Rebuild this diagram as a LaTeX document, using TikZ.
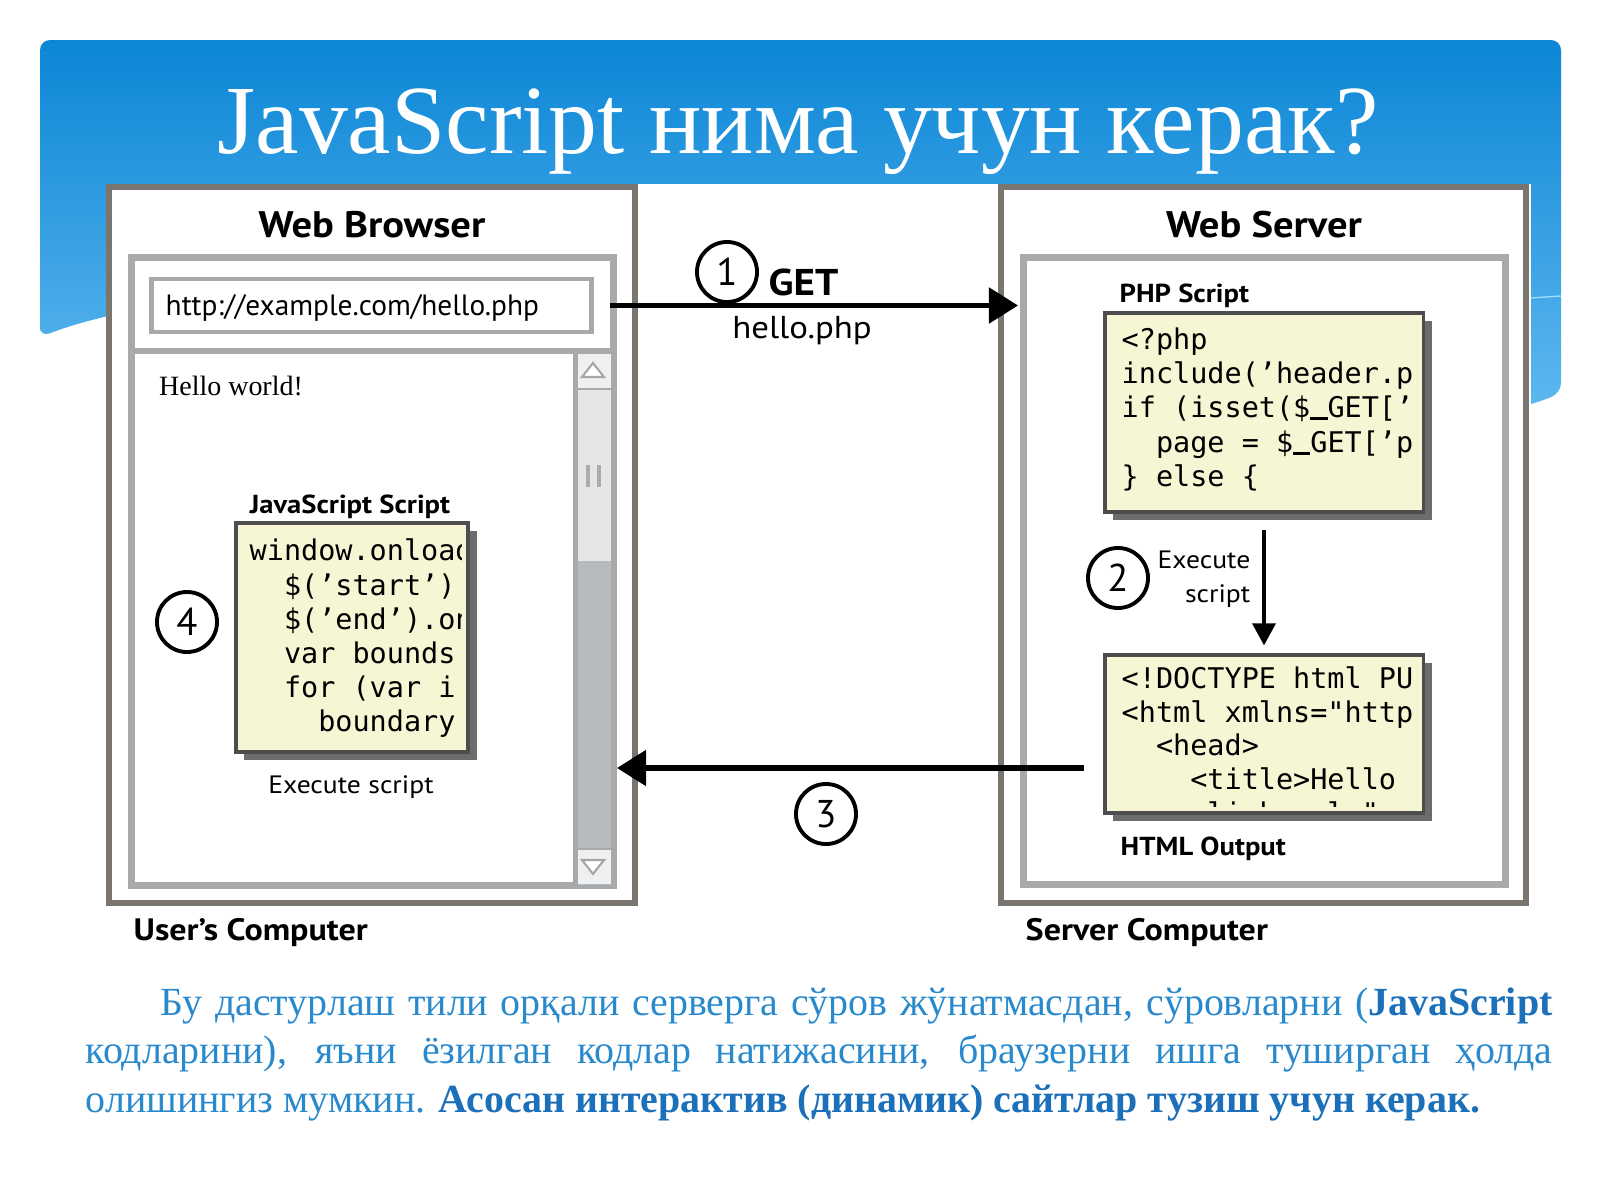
\documentclass[tikz,border=0pt]{standalone}
\usepackage{fontspec}
\setmainfont{Liberation Serif}
\newfontfamily\dsans[FakeStretch=1.1]{PT Sans}
\newfontfamily\dsansn{PT Sans}
\newfontfamily\dmono{DejaVu Sans Mono}
\usetikzlibrary{arrows.meta,shadows}
\newcommand\uscore{\rule[-0.09em]{0.602em}{0.08em}}
\definecolor{bantop}{HTML}{0C86D6}
\definecolor{banmid}{HTML}{2C9FE6}
\definecolor{banbot}{HTML}{72C4F5}
\definecolor{outergray}{HTML}{7A756E}
\definecolor{framegray}{HTML}{A8A9AB}
\definecolor{codefill}{HTML}{F7F6D4}
\definecolor{codeedge}{HTML}{4D4D4D}
\definecolor{shadowgray}{HTML}{6C6C6C}
\definecolor{trackgray}{HTML}{B6B9BD}
\definecolor{thumbgray}{HTML}{E4E6E8}
\definecolor{btngray}{HTML}{EEF0F1}
\definecolor{parablue}{HTML}{2989CD}
\definecolor{boldblue}{HTML}{1B70B9}
\begin{document}
\begin{tikzpicture}[x=0.01cm,y=-0.01cm,
  outerbox/.style={draw=outergray, line width=1.7pt, fill=white},
  framebox/.style={draw=framegray, line width=2pt, fill=white},
  codebox/.style={draw=codeedge, line width=0.9pt, fill=codefill,
    general shadow={fill=shadowgray, shadow xshift=0.085cm, shadow yshift=-0.08cm}},
  hdr/.style={inner sep=0pt, anchor=base, font=\dsans\bfseries\fontsize{10.5}{12}\selectfont},
  capt/.style={inner sep=0pt, anchor=base west, font=\dsans\bfseries\fontsize{7.4}{9}\selectfont},
  foot/.style={inner sep=0pt, anchor=base west, font=\dsans\bfseries\fontsize{8.8}{10}\selectfont},
  plain/.style={inner sep=0pt, font=\dsans\fontsize{7.15}{9}\selectfont},
  numc/.style={circle, draw, line width=1.1pt, minimum size=0.6cm, inner sep=0pt, font=\dsansn\fontsize{11}{11}\selectfont},
  code/.style={inner sep=0pt, anchor=base west, font=\dmono\fontsize{8.1}{9.7}\selectfont},
  para/.style={inner sep=0pt, anchor=base west, text=parablue, font=\fontsize{11.35}{13}\selectfont},
  bigarrow/.style={line width=1.45pt, -{Triangle[length=0.29cm, width=0.35cm]}},
  smallarrow/.style={line width=1pt, -{Triangle[length=0.22cm, width=0.23cm]}}]
\useasboundingbox (0,0) rectangle (1600,1200);
\fill[white] (0,0) rectangle (1600,1200);
% banner
\shade[top color=bantop, middle color=banmid, bottom color=banbot, rounded corners=0.1cm]
  (40,337) -- (40,40) -- (1561,40) -- (1561,393) .. controls (1300,500) and (400,200) .. (40,337) -- cycle;
\draw[white!60!cyan, line width=0.4pt] (1531,298) -- (1561,296);
\fill[white] (106,184) rectangle (1531,950);
\node[inner sep=0pt, anchor=base, text=white, font=\fontsize{27.8}{30}\selectfont] (title) at (798,153) {JavaScript нима учун керак?};

% outer boxes
\node[outerbox, minimum width=5.255cm, minimum height=7.16cm] (userpc) at (372.25,545) {};
\node[outerbox, minimum width=5.24cm, minimum height=7.16cm] (serverpc) at (1263.5,545) {};
\node[hdr] (wb) at (372,237) {Web Browser};
\node[hdr] (ws) at (1264,237) {Web Server};

% browser frame
\node[framebox, minimum width=4.81cm, minimum height=6.27cm] (browser) at (372.5,571.5) {};
\fill[trackgray] (575,351) rectangle (611,885);
\fill[thumbgray] (576,389) rectangle (611,561);
\fill[btngray] (576,352) rectangle (611,389);
\fill[btngray] (576,849) rectangle (611,884);
\draw[framegray, line width=1.2pt] (575.5,351) -- (575.5,885);
\draw[framegray, line width=0.8pt] (576,389) -- (611,389) (576,849) -- (611,849);
\draw[gray!70, fill=white, line width=0.6pt] (582,377) -- (604,377) -- (593,363) -- cycle;
\draw[gray!70, fill=white, line width=0.6pt] (582,860) -- (604,860) -- (593,874) -- cycle;
\draw[gray!65, line width=1pt] (588,465) -- (588,487) (599,465) -- (599,487);
\draw[framegray, line width=1.6pt] (132,351) -- (613,351);
\node[draw=framegray, line width=1.4pt, fill=white, minimum width=4.39cm, minimum height=0.53cm] (url) at (371.5,305.5) {};
\node[inner sep=0pt, anchor=base west, font=\dsansn\fontsize{8.35}{10}\selectfont] (urltxt) at (165,315) {http://example.com/hello.php};
\node[inner sep=0pt, anchor=base west, font=\fontsize{7.95}{9}\selectfont] (hello) at (158.5,395) {Hello world!};

% JS script
\node[hdr, font=\dsans\bfseries\fontsize{7.4}{9}\selectfont] (jslbl) at (350,513) {JavaScript Script};
\node[codebox, minimum width=2.32cm, minimum height=2.29cm] (jsbox) at (352,637.5) {};
\begin{scope}
\clip (237,524) rectangle (461,751);
\node[code] (js0) at (249,560) {window.onload};
\node[code] (js1) at (249,595) {\phantom{xx}\$(’start’)};
\node[code] (js2) at (249,629) {\phantom{xx}\$(’end’).on};
\node[code] (js3) at (249,663) {\phantom{xx}var bounds};
\node[code] (js4) at (249,697) {\phantom{xx}for (var i};
\node[code] (js5) at (249,731) {\phantom{xxxx}boundary};
\end{scope}
\node[plain, anchor=base] (exec4) at (351,793) {Execute script};
\node[numc] (c4) at (187,622) {4};
\node[foot] (ucomp) at (133,940) {User’s Computer};

% server frame
\node[framebox, minimum width=4.81cm, minimum height=6.26cm] (server) at (1264.5,571) {};
\node[capt] (phplbl) at (1119,302) {PHP Script};
\node[codebox, minimum width=3.18cm, minimum height=1.99cm] (phpbox) at (1264,412.5) {};
\begin{scope}
\clip (1106,314) rectangle (1422,511);
\node[code] (php0) at (1121,349) {<?php};
\node[code] (php1) at (1121,383) {include(’header.p};
\node[code] (php2) at (1121,417) {if (isset(\$\uscore GET[’};
\node[code] (php3) at (1121,452) {\phantom{xx}page = \$\uscore GET[’p};
\node[code] (php4) at (1121,486) {\} else \{};
\end{scope}
\node[codebox, minimum width=3.18cm, minimum height=1.58cm] (htmlbox) at (1264,734) {};
\begin{scope}
\clip (1106,656) rectangle (1422,806);
\node[code] (h0) at (1121,688) {<!DOCTYPE html PU};
\node[code] (h1) at (1121,722) {<html xmlns="http};
\node[code] (h2) at (1121,755) {\phantom{xx}<head>};
\node[code] (h3) at (1121,789) {\phantom{xxxx}<title>Hello};
\node[code] (h4) at (1121,823) {\phantom{xxxx}<link rel="};
\end{scope}
\node[capt] (htmllbl) at (1120,855) {HTML Output};
\node[foot] (scomp) at (1025,940) {Server Computer};
\draw[smallarrow, shorten <=0.16cm, shorten >=0.08cm] (phpbox.south) -- (htmlbox.north);
\node[numc] (c2) at (1118,578) {2};
\node[plain, anchor=base east] (ex2a) at (1251,568) {Execute};
\node[plain, anchor=base east] (ex2b) at (1251,602) {script};

% request / response arrows
\coordinate (a1s) at (610,305.5);
\coordinate (a1e) at (1018,305.5);
\draw[bigarrow] (a1s) -- (a1e);
\node[numc] (c1) at (727,272) {1};
\node[inner sep=0pt, anchor=base west, font=\dsans\bfseries\fontsize{10.6}{12}\selectfont] (get) at (768,295) {GET};
\node[inner sep=0pt, anchor=base, font=\dsans\fontsize{9}{11}\selectfont] (hphp) at (802,338) {hello.php};
\coordinate (a3s) at (1084,768);
\coordinate (a3e) at (617,768);
\draw[bigarrow] (a3s) -- (a3e);
\node[numc] (c3) at (826,814) {3};

% paragraph
\node[para] (p1) at (160,1015) {\makebox[13.91cm][s]{Бу дастурлаш тили орқали серверга сўров жўнатмасдан, сўровларни (\textbf{\color{boldblue}JavaScript}}};
\node[para] (p2) at (85,1063) {\makebox[14.66cm][s]{кодларини), яъни ёзилган кодлар натижасини, браузерни ишга туширган ҳолда}};
\node[para] (p3) at (85,1112) {олишингиз мумкин. \textbf{\color{boldblue}Асосан интерактив (динамик) сайтлар тузиш учун керак.}};
\end{tikzpicture}
\end{document}
